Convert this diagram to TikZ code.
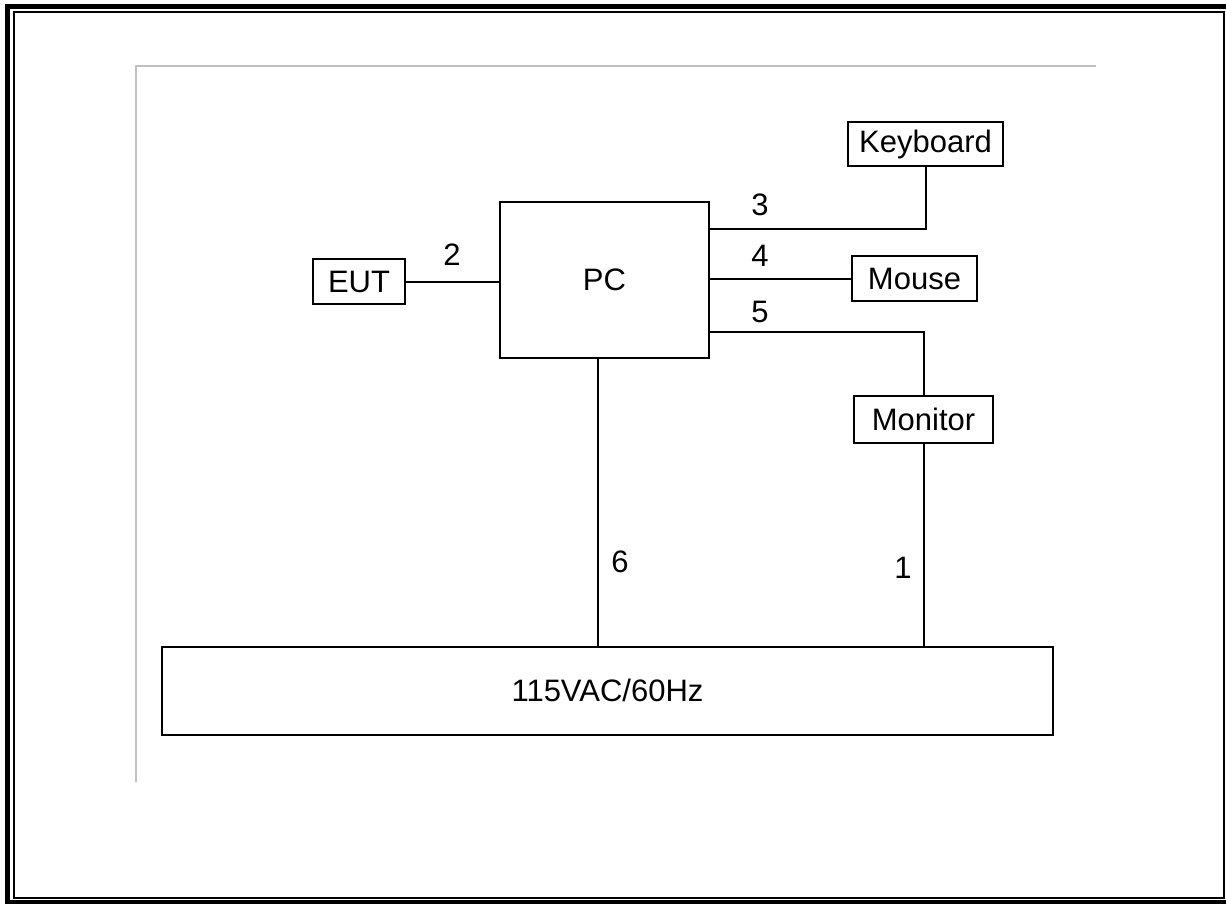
\documentclass[tikz,border=0pt]{standalone}
\usepackage{fontspec}
\setmainfont{Liberation Sans}
\begin{document}
\begin{tikzpicture}[x=1pt,y=-1pt,
  box/.style={draw,line width=2pt,inner sep=0pt,font=\fontsize{31}{36}\selectfont},
  lbl/.style={inner sep=0pt,font=\fontsize{31}{36}\selectfont},
  wire/.style={line width=2pt}]
\useasboundingbox (0,0) rectangle (1226,904);
\begin{scope}
\clip (0,0) rectangle (1226,904);
\draw[line width=5pt] (7.5,6.5) rectangle (1229,902.5);
\end{scope}
\draw[line width=2pt] (13.5,12.5) rectangle (1224,898);
\draw[line width=2pt,color={rgb,255:red,192;green,192;blue,192}] (1096,66.5) -- (136,66.5) -- (136,782);
\node[box,minimum width=92pt,minimum height=45pt] (EUT) at (359,281.5) {EUT};
\node[box,minimum width=209pt,minimum height=156pt] (PC) at (604.5,280) {PC};
\node[box,minimum width=155pt,minimum height=44pt] (KB) at (925.5,144) {Keyboard};
\node[box,minimum width=125pt,minimum height=45pt] (MS) at (914.5,278.5) {Mouse};
\node[box,minimum width=139pt,minimum height=47pt] (MON) at (923.5,419.5) {Monitor};
\node[box,minimum width=891pt,minimum height=88pt] (PWR) at (607.5,690.5) {115VAC/60Hz};
\draw[wire] (EUT.east) -- (EUT.east -| PC.west);
\draw[wire] ([yshift=51pt]PC.east) -| (KB.south);
\draw[wire] (PC.east |- MS.west) -- (MS.west);
\draw[wire] ([yshift=-52pt]PC.east) -| (MON.north);
\draw[wire] (MON.south) -- (MON.south |- PWR.north);
\draw[wire] ([xshift=-6.5pt]PC.south) -- ([xshift=-6.5pt]PC.south |- PWR.north);
\node[lbl] (l2) at (452,255) {2};
\node[lbl] (l3) at (760,205) {3};
\node[lbl] (l4) at (760,256) {4};
\node[lbl] (l5) at (760,312) {5};
\node[lbl] (l6) at (620,562) {6};
\node[lbl] (l1) at (903,568) {1};
\end{tikzpicture}
\end{document}
